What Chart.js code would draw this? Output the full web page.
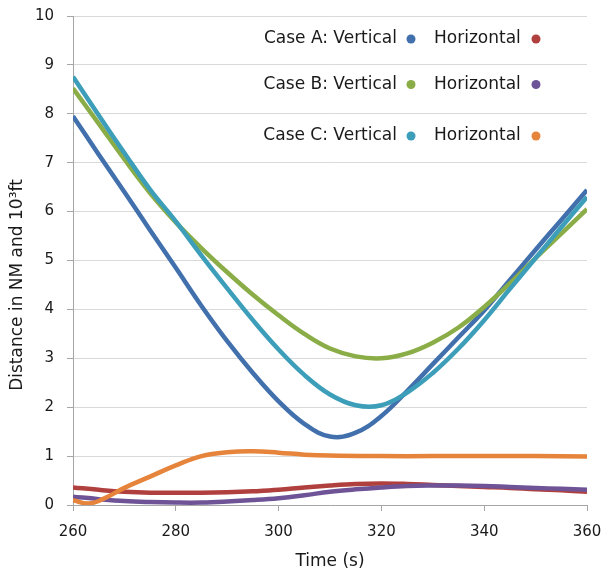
<!DOCTYPE html>
<html>
<head>
<meta charset="utf-8">
<script src="https://cdn.jsdelivr.net/npm/chart.js@4.4.1/dist/chart.umd.min.js"></script>
<style>
  html, body { margin: 0; padding: 0; background: #ffffff; }
  #wrap { width: 603px; height: 574px; }
</style>
</head>
<body>
<div id="wrap"><canvas id="c" width="603" height="574"></canvas></div>
<script>
// ---- data ----
const times = [260, 265, 270, 275, 280, 285, 290, 295, 300, 305, 310, 315, 320, 325, 330, 335, 340, 345, 350, 355, 360];
const caseAVertical   = [7.95, 7.17, 6.40, 5.62, 4.85, 4.07, 3.35, 2.70, 2.12, 1.66, 1.40, 1.48, 1.82, 2.33, 2.88, 3.43, 3.98, 4.60, 5.22, 5.83, 6.44];
const caseAHorizontal = [0.36, 0.31, 0.27, 0.25, 0.25, 0.25, 0.26, 0.28, 0.31, 0.36, 0.40, 0.43, 0.44, 0.43, 0.41, 0.39, 0.37, 0.35, 0.32, 0.30, 0.27];
const caseBVertical   = [8.52, 7.80, 7.07, 6.38, 5.78, 5.25, 4.76, 4.30, 3.88, 3.50, 3.20, 3.04, 3.00, 3.10, 3.32, 3.63, 4.05, 4.53, 5.05, 5.55, 6.05];
const caseBHorizontal = [0.17, 0.12, 0.08, 0.06, 0.05, 0.05, 0.07, 0.10, 0.14, 0.20, 0.27, 0.32, 0.36, 0.39, 0.40, 0.40, 0.39, 0.37, 0.35, 0.33, 0.31];
const caseCVertical   = [8.76, 7.97, 7.20, 6.45, 5.80, 5.10, 4.43, 3.78, 3.18, 2.66, 2.26, 2.04, 2.04, 2.30, 2.70, 3.20, 3.78, 4.42, 5.05, 5.68, 6.30];
const caseCTimes      = [260, 263, 266, 270, 275, 280, 285, 290, 295, 300, 305, 310, 320, 330, 340, 350, 360];
const caseCHorizontal = [0.10, 0.03, 0.13, 0.35, 0.58, 0.81, 1.00, 1.08, 1.10, 1.07, 1.03, 1.01, 1.00, 1.00, 1.00, 1.00, 0.99];

const caseNames = ['Case A', 'Case B', 'Case C'];
const xTicks = [260, 280, 300, 320, 340, 360];
const yTicks = [0, 1, 2, 3, 4, 5, 6, 7, 8, 9, 10];
const xTitle = 'Time (s)';
const yTitle = 'Distance in NM and 10\u00B3ft';

const colors = {
  aV: '#4170ac', aH: '#b0403d',
  bV: '#8aad47', bH: '#6e5497',
  cV: '#3d9eba', cH: '#e5843a'
};

function pts(xs, ys) { return xs.map((x, i) => ({ x: x, y: ys[i] })); }

const seriesDefs = [
  { label: 'Case A: Vertical',   data: pts(times, caseAVertical),   color: colors.aV },
  { label: 'Case A: Horizontal', data: pts(times, caseAHorizontal), color: colors.aH },
  { label: 'Case B: Vertical',   data: pts(times, caseBVertical),   color: colors.bV },
  { label: 'Case B: Horizontal', data: pts(times, caseBHorizontal), color: colors.bH },
  { label: 'Case C: Vertical',   data: pts(times, caseCVertical),   color: colors.cV },
  { label: 'Case C: Horizontal', data: pts(caseCTimes, caseCHorizontal), color: colors.cH }
];

const datasets = seriesDefs.map((s, i) => ({
  label: s.label,
  data: s.data,
  borderColor: s.color,
  backgroundColor: s.color,
  borderWidth: 4.5,
  pointRadius: 0,
  tension: 0.4,
  fill: false,
  order: seriesDefs.length - i
}));

const FONT = '"DejaVu Sans", Verdana, sans-serif';

const legendPlugin = {
  id: 'caseLegend',
  afterDraw(chart) {
    const ctx = chart.ctx;
    const rows = [39, 84.5, 136];
    ctx.save();
    ctx.font = '17px ' + FONT;
    ctx.textBaseline = 'middle';
    caseNames.forEach((name, r) => {
      const y = rows[r];
      const dv = chart.data.datasets[r * 2];
      const dh = chart.data.datasets[r * 2 + 1];
      ctx.textAlign = 'right';
      ctx.fillStyle = '#1a1a1a';
      ctx.fillText(name + ': Vertical', 397, y);
      ctx.beginPath();
      ctx.arc(411, y, 4.5, 0, Math.PI * 2);
      ctx.fillStyle = dv.borderColor;
      ctx.fill();
      ctx.textAlign = 'left';
      ctx.fillStyle = '#1a1a1a';
      ctx.fillText('Horizontal', 434, y);
      ctx.beginPath();
      ctx.arc(536, y, 4.5, 0, Math.PI * 2);
      ctx.fillStyle = dh.borderColor;
      ctx.fill();
    });
    // y-axis title, centred where the reference places it
    ctx.translate(18, 285);
    ctx.rotate(-Math.PI / 2);
    ctx.textAlign = 'center';
    ctx.fillStyle = '#1a1a1a';
    ctx.fillText(yTitle, 0, 0);
    ctx.restore();
  }
};

new Chart(document.getElementById('c'), {
  type: 'line',
  data: { datasets: datasets },
  plugins: [legendPlugin],
  options: {
    responsive: false,
    animation: false,
    devicePixelRatio: 1,
    layout: { padding: { top: 16, right: 16, left: 0, bottom: 0 } },
    plugins: { legend: { display: false }, tooltip: { enabled: false } },
    scales: {
      x: {
        type: 'linear',
        min: 260, max: 360,
        afterFit(scale) { scale.height = 69; scale.paddingLeft = 0; scale.paddingRight = 0; },
        afterBuildTicks(scale) { scale.ticks = xTicks.map(v => ({ value: v })); },
        grid: { drawOnChartArea: false, drawTicks: true, tickLength: 6, color: '#a6a6a6', tickColor: '#a6a6a6' },
        border: { display: true, color: '#a6a6a6', width: 1 },
        ticks: { color: '#1a1a1a', font: { family: FONT, size: 15 }, padding: 12, maxRotation: 0 },
        title: { display: true, text: xTitle, color: '#1a1a1a', font: { family: FONT, size: 17 }, padding: { top: 0, bottom: 2 } }
      },
      y: {
        type: 'linear',
        min: 0, max: 10,
        afterFit(scale) { scale.width = 73; scale.paddingTop = 0; scale.paddingBottom = 0; },
        afterBuildTicks(scale) { scale.ticks = yTicks.map(v => ({ value: v })); },
        grid: { color: '#d9d9d9', lineWidth: 1, drawTicks: true, tickLength: 6, tickColor: '#a6a6a6' },
        border: { display: true, color: '#a6a6a6', width: 1 },
        ticks: { color: '#1a1a1a', font: { family: FONT, size: 15 }, padding: 13 },
        title: { display: false }
      }
    }
  }
});
</script>
</body>
</html>
